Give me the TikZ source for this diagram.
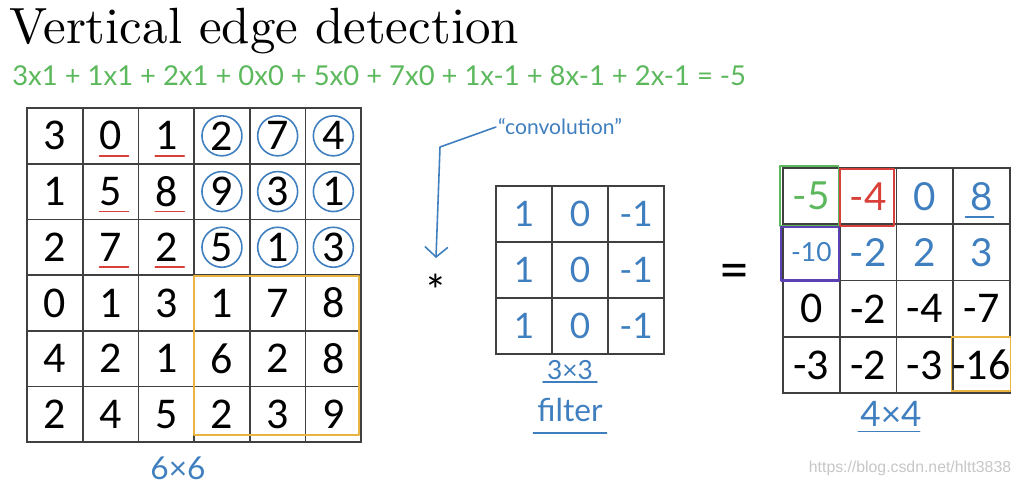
\documentclass[tikz,border=0pt]{standalone}
\usepackage{fontspec}
\newfontfamily\titlefont{lmroman10-regular}[Extension=.otf]
\newfontfamily\gridfont{Carlito}
\newfontfamily\penfont{Lato}
\newfontfamily\markfont{Liberation Sans}
\definecolor{penblue}{HTML}{3F7FBF}
\definecolor{pengreen}{HTML}{5CB85C}
\definecolor{penred}{HTML}{D9403A}
\definecolor{penpurple}{HTML}{5A40B0}
\definecolor{penyellow}{HTML}{E9B440}
\definecolor{gridgray}{HTML}{404040}
\usetikzlibrary{arrows.meta,positioning,calc}

\begin{document}
\begin{tikzpicture}[x=0.02cm, y=-0.02cm,
  cell/.style={draw=gridgray, line width=1pt, minimum width=1.114cm,
    minimum height=1.114cm, inner sep=0pt, font=\gridfont\fontsize{25}{30}\selectfont},
  fcell/.style={cell, minimum width=1.12cm, minimum height=1.12cm,
    text=penblue, font=\penfont\fontsize{20}{24}\selectfont},
  rcell/.style={cell, minimum width=1.134cm, minimum height=1.126cm},
  hand/.style={text=penblue, inner sep=1pt, font=\penfont\fontsize{18}{22}\selectfont},
  pen/.style={line width=0.9pt, line cap=round, line join=round},
]
  \path[use as bounding box, fill=white] (0,0) rectangle (1020,487);

  \node[anchor=base west, inner sep=0pt, font=\titlefont\fontsize{29}{34}\selectfont]
    (title) at (9,43) {Vertical edge detection};
  \node[anchor=west, inner sep=0pt, text=pengreen, font=\penfont\fontsize{15.6}{18}\selectfont]
    (sum) at (12,76) {3x1 + 1x1 + 2x1 + 0x0 + 5x0 + 7x0 + 1x-1 + 8x-1 + 2x-1 = -5};

  % 6x6 input
  \foreach \vals [count=\r] in {{3,0,1,2,7,4},{1,5,8,9,3,1},{2,7,2,5,1,3},
                                {0,1,3,1,7,8},{4,2,1,6,2,8},{2,4,5,2,3,9}}
    \foreach \v [count=\c] in \vals
      \node[cell] (in-\r-\c) at ({27+55.7*(\c-0.5)},{108+55.7*(\r-0.5)}) {\v};
  \foreach \r in {1,2,3}
    \foreach \c in {2,3}
      \draw[pen, penred] ($(in-\r-\c.center)+(-11,20)$) -- ($(in-\r-\c.center)+(18,20)$);
  \foreach \r in {1,2,3}
    \foreach \c in {4,5,6}
      \draw[pen, penblue] (in-\r-\c.center) ellipse [x radius=0.4cm, y radius=0.4cm];
  \draw[pen, penyellow] ($(in-4-4.north west)+(1,2)$) rectangle ($(in-6-6.south east)+(-3,-8)$);
  \node[hand, font=\penfont\fontsize{18}{22}\selectfont] (insize) at (178,468) {6×6};

  % convolution note
  \node[hand, font=\penfont\fontsize{12}{15}\selectfont] (conv) at (560,127) {“convolution”};
  \coordinate (bend) at (440,147);
  \coordinate (tip) at (436,258);
  \node[inner sep=0pt, font=\gridfont\fontsize{26}{30}\selectfont] (star) at (436,290) {*};
  \draw[pen, penblue, -{Straight Barb[length=0.2cm, width=0.46cm]}]
    (conv.west) -- (bend) -- (tip);

  % 3x3 filter
  \foreach \vals [count=\r] in {{1,0,-1},{1,0,-1},{1,0,-1}}
    \foreach \v [count=\c] in \vals
      \node[fcell] (flt-\r-\c) at ({496+56*(\c-0.5)},{186+56*(\r-0.5)}) {\v};
  \node[hand, font=\penfont\fontsize{15}{18}\selectfont] (fsize) at (570,370) {3×3};
  \draw[pen, penblue] ($(fsize.south west)+(-2,0)$) -- ($(fsize.south east)+(2,0)$);
  \node[hand, font=\penfont\fontsize{18}{22}\selectfont] (fname) at (570,410) {filter};
  \draw[pen, penblue] ($(fname.south west)+(-2,9)$) -- ($(fname.south east)+(2,9)$);

  \node[inner sep=0pt, font=\gridfont\fontsize{32}{36}\selectfont] (eq) at (734,276) {=};

  % 4x4 output
  \foreach \v/\col [count=\c] in {-5/pengreen,-4/penred,0/penblue,8/penblue}
    \node[rcell, text=\col, font=\penfont\fontsize{22}{26}\selectfont]
      (out-1-\c) at ({783+56.7*(\c-0.5)},{168+56.3*0.5}) {\v};
  \foreach \v [count=\c] in {{\fontsize{15}{18}\selectfont -10},-2,2,3}
    \node[rcell, text=penblue, font=\penfont\fontsize{22}{26}\selectfont]
      (out-2-\c) at ({783+56.7*(\c-0.5)},{168+56.3*1.5}) {\v};
  \foreach \vals [count=\r from 3] in {{0,-2,-4,-7},{-3,-2,-3,-16}}
    \foreach \v [count=\c] in \vals
      \node[rcell] (out-\r-\c) at ({783+56.7*(\c-0.5)},{168+56.3*(\r-0.5)}) {\v};
  \draw[pen, penblue] ($(out-1-4.center)+(-16,21)$) -- ($(out-1-4.center)+(12,21)$);
  \draw[pen, pengreen] ($(out-1-1.north west)+(-2,-1)$) rectangle ($(out-1-1.south east)+(-2,1)$);
  \draw[pen, penred] ($(out-1-2.north west)+(1,2)$) rectangle ($(out-1-2.south east)+(-3,1)$);
  \draw[pen, penpurple, line width=1.2pt] ($(out-2-1.north west)+(-1,4)$) rectangle ($(out-2-1.south east)+(-2,-1)$);
  \draw[pen, penyellow] ($(out-4-4.north west)+(0,1)$) rectangle ($(out-4-4.south east)+(-1,-3)$);
  \node[hand, font=\penfont\fontsize{20}{24}\selectfont] (osize) at (891,414) {4×4};
  \draw[pen, penblue] ($(osize.south west)+(0,3)$) -- ($(osize.south east)+(-4,3)$);

  \node[inner sep=0pt, text=black!22, font=\markfont\fontsize{9}{11}\selectfont]
    (mark) at (910,468) {https://blog.csdn.net/hltt3838};
\end{tikzpicture}
\end{document}
